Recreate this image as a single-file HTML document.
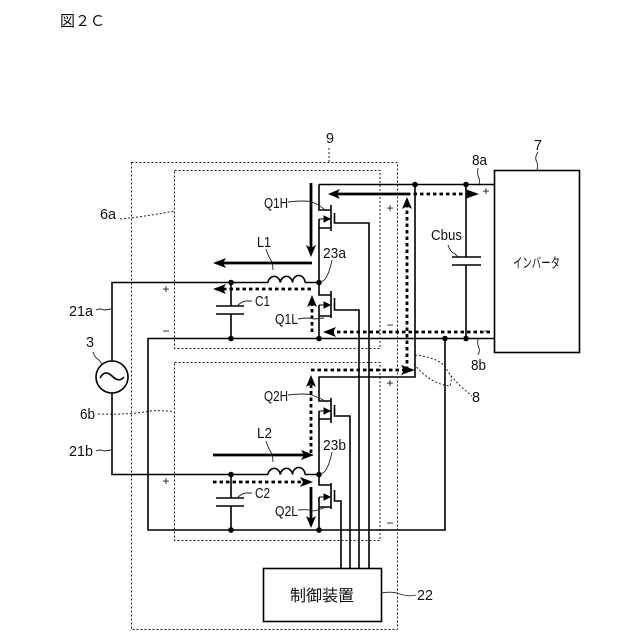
<!DOCTYPE html>
<html><head><meta charset="utf-8"><style>
html,body{margin:0;padding:0;background:#fff}
svg{display:block}
text{font-family:"Liberation Sans","Noto Sans CJK JP",sans-serif;fill:#111}
.l{font-size:15px}
</style></head><body>
<svg width="640" height="640" viewBox="0 0 640 640" xmlns="http://www.w3.org/2000/svg">
<rect width="640" height="640" fill="#fff"/>
<!-- dashed boxes -->
<g fill="none" stroke="#222" stroke-width="1" stroke-dasharray="2 2">
<rect x="131.5" y="162.5" width="266" height="467"/>
<rect x="174.5" y="170.5" width="205.500" height="178"/>
<rect x="174.5" y="362.5" width="205.500" height="178"/>
<path d="M329 148V162M120 219Q150 216 174 211M98 414Q130 415 150 411Q165 410 174 412"/>
<path d="M415 355Q440 358 446 368Q452 380 472 396M414 364Q430 384 450 386Q452 380 451 375"/>
</g>
<!-- wires -->
<g fill="none" stroke="#000" stroke-width="1.600">
<path d="M319 184.500H494M415 184.500V377H319V401H331M319 184.500V210H331M331 205V231M334.500 213V223H369V568"/>
<path d="M331 228H319V295H331M331 291V318M334.500 298V310H359V568M331 316H319V338"/>
<path d="M319 219V228M319 305V316"/>
<path d="M268 282.500H112V361M112 393V474.500H268M305 282.500H319M305 474.500H319"/>
<path d="M268 282.500a6.200 7 0 0 1 12.300 0a6.200 7 0 0 1 12.300 0a6.200 7 0 0 1 12.400 0"/>
<path d="M268 474.500a6.200 7 0 0 1 12.300 0a6.200 7 0 0 1 12.300 0a6.200 7 0 0 1 12.400 0"/>
<path d="M231 282.500V306M216 306H244M216 314H244M231 314V338"/>
<path d="M231 474.500V498M216 498H244M216 506H244M231 506V530"/>
<path d="M494 338.500H148V530H445V338.500"/>
<path d="M466 184.500V257M452 257H481M452 265H481M466 265V338.500"/>
<path d="M331 398V423M334.500 405V416H350V568M331 419H319V485H331M331 483V509M334.500 490V501H341V568M331 507H319V530"/>
<path d="M319 411V419M319 497V507"/>
<circle cx="112" cy="377" r="16"/>
<path d="M100 378Q105 369 112 376T124 377"/>
<rect x="494.500" y="170.500" width="85" height="182"/>
<rect x="263.500" y="568.500" width="118" height="53"/>
</g>
<!-- small body arrows -->
<g stroke="#000" stroke-width="1" fill="#000">
<path d="M319 219H329" /><path d="M330 219l-6-3v6z"/>
<path d="M319 305H329" /><path d="M330 305l-6-3v6z"/>
<path d="M319 411H329" /><path d="M330 411l-6-3v6z"/>
<path d="M319 497H329" /><path d="M330 497l-6-3v6z"/>
</g>
<!-- nodes -->
<g fill="#000">
<circle cx="415" cy="184.500" r="2.800"/><circle cx="466" cy="184.500" r="2.800"/>
<circle cx="466" cy="338.500" r="2.800"/><circle cx="445" cy="338.500" r="2.800"/>
<circle cx="319" cy="282.500" r="2.800"/><circle cx="319" cy="338.500" r="2.800"/>
<circle cx="231" cy="282.500" r="2.800"/><circle cx="231" cy="338.500" r="2.800"/>
<circle cx="319" cy="474.500" r="2.800"/><circle cx="319" cy="530" r="2.800"/>
<circle cx="231" cy="474.500" r="2.800"/><circle cx="231" cy="530" r="2.800"/>
</g>
<!-- thick solid arrows -->
<g fill="none" stroke="#000" stroke-width="2.800">
<path d="M407 194H332M311 183V252M312 263H218M213 455H309M311 487V523"/>
</g>
<!-- dotted thick paths -->
<g fill="none" stroke="#000" stroke-width="2.800" stroke-dasharray="3.500 3">
<path d="M407 370V204M407 194H472M311 289H222M312 332V303M490 332H330M311 453V382M311 370H408M213 482H306"/>
</g>
<!-- arrowheads -->
<g fill="#000">
<path d="M328 194l12-5-3 5 3 5z"/>
<path d="M311 257l-5-12 5 3 5-3z"/>
<path d="M213 263l13-5-3 5 3 5z"/>
<path d="M314 455l-13-5 3 5-3 5z"/>
<path d="M311 528l-5-12 5 3 5-3z"/>
<path d="M407 197l-5 12 5-3 5 3z"/>
<path d="M479 194l-14-5 3 5-3 5z"/>
<path d="M213 289l13-5-3 5 3 5z"/>
<path d="M312 295l-5 12 5-3 5 3z"/>
<path d="M323 332l13-5-3 5 3 5z"/>
<path d="M311 375l-5 12 5-3 5 3z"/>
<path d="M415 370l-14-5 3 5-3 5z"/>
<path d="M313 482l-13-5 3 5-3 5z"/>
</g>
<!-- leaders -->
<g fill="none" stroke="#222" stroke-width="0.900">
<path d="M288 202Q305 200 312 202Q320 205 326 211"/>
<path d="M266 249Q268 256 272 262Q273 266 273 270"/>
<path d="M332 260Q330 270 327 276Q325 281 320 282"/>
<path d="M238 305Q243 301 246 301H252"/>
<path d="M298 319Q308 317 314 319L324 318"/>
<path d="M288 395Q305 393 312 395Q320 398 327 402"/>
<path d="M266 441Q268 448 272 454Q273 458 273 462"/>
<path d="M332 452Q330 462 327 468Q325 473 320 474"/>
<path d="M238 497Q243 493 246 493H252"/>
<path d="M298 510Q308 509 314 511L324 508"/>
<path d="M448 245Q450 252 455 254L458 257"/>
<path d="M478 168Q477 176 479 178Q480 181 479 184"/>
<path d="M478 339Q477 344 479 348Q480 352 478 355"/>
<path d="M538 152Q534 158 537 162Q538 166 537 170"/>
<path d="M96 310Q100 308 104 310L111 309"/>
<path d="M96 451Q100 449 104 451L111 450"/>
<path d="M93 352Q95 358 99 360L102 364"/>
<path d="M381 593Q392 591 400 594Q408 597 416 595"/>
</g>
<!-- text -->
<text x="60" y="26" font-size="15" textLength="45" lengthAdjust="spacingAndGlyphs">図２Ｃ</text>
<g class="l">
<text x="326" y="143" textLength="8" lengthAdjust="spacingAndGlyphs">9</text>
<text x="472" y="165" textLength="15" lengthAdjust="spacingAndGlyphs">8a</text>
<text x="471" y="370" textLength="15" lengthAdjust="spacingAndGlyphs">8b</text>
<text x="534" y="150" textLength="8" lengthAdjust="spacingAndGlyphs">7</text>
<text x="100" y="219" textLength="16" lengthAdjust="spacingAndGlyphs">6a</text>
<text x="80" y="419" textLength="15" lengthAdjust="spacingAndGlyphs">6b</text>
<text x="69" y="316" textLength="24" lengthAdjust="spacingAndGlyphs">21a</text>
<text x="69" y="456" textLength="24" lengthAdjust="spacingAndGlyphs">21b</text>
<text x="86" y="347" textLength="8" lengthAdjust="spacingAndGlyphs">3</text>
<text x="264" y="208" textLength="24" lengthAdjust="spacingAndGlyphs">Q1H</text>
<text x="257" y="247" textLength="14" lengthAdjust="spacingAndGlyphs">L1</text>
<text x="323" y="258" textLength="23" lengthAdjust="spacingAndGlyphs">23a</text>
<text x="255" y="306" textLength="15" lengthAdjust="spacingAndGlyphs">C1</text>
<text x="275" y="324" textLength="23" lengthAdjust="spacingAndGlyphs">Q1L</text>
<text x="264" y="401" textLength="24" lengthAdjust="spacingAndGlyphs">Q2H</text>
<text x="257" y="438" textLength="15" lengthAdjust="spacingAndGlyphs">L2</text>
<text x="323" y="450" textLength="23" lengthAdjust="spacingAndGlyphs">23b</text>
<text x="255" y="498" textLength="15" lengthAdjust="spacingAndGlyphs">C2</text>
<text x="275" y="516" textLength="23" lengthAdjust="spacingAndGlyphs">Q2L</text>
<text x="431" y="240" textLength="31" lengthAdjust="spacingAndGlyphs">Cbus</text>
<text x="472" y="402" textLength="8" lengthAdjust="spacingAndGlyphs">8</text>
<text x="417" y="600" textLength="16" lengthAdjust="spacingAndGlyphs">22</text>
</g>
<text x="513" y="268" font-size="14" textLength="47" lengthAdjust="spacingAndGlyphs">インバータ</text>
<text x="290" y="601" font-size="16" textLength="64" lengthAdjust="spacingAndGlyphs">制御装置</text>
<g font-size="12" text-anchor="middle">
<text x="390" y="212">+</text><text x="390" y="329">−</text>
<text x="166" y="293">+</text><text x="166" y="335">−</text>
<text x="166" y="485">+</text><text x="390" y="527">−</text>
<text x="390" y="387">+</text><text x="486" y="195">+</text><text x="487" y="335">−</text>
</g>
</svg>
</body></html>
